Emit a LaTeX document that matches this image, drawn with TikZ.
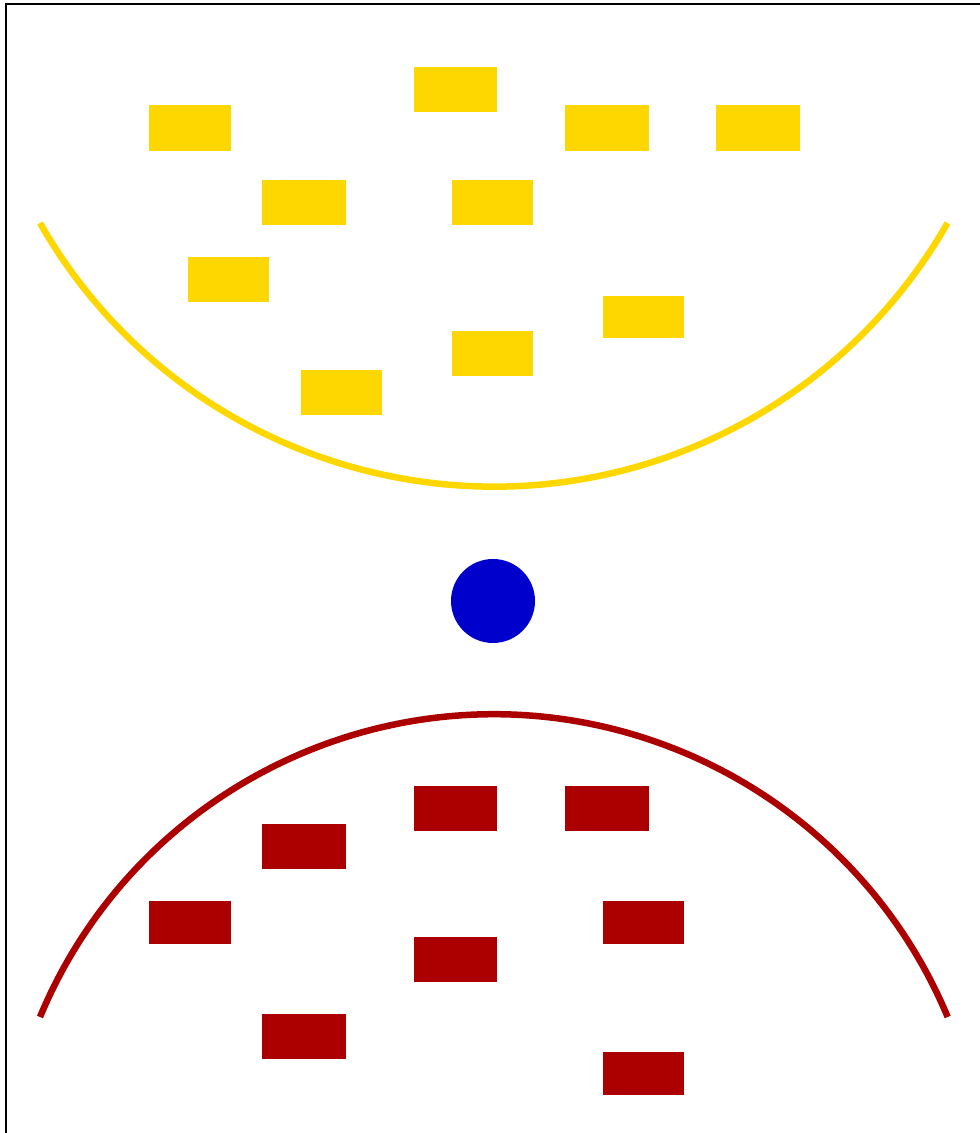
\documentclass[tikz,border=0pt]{standalone}
\usepackage{tikz}
\definecolor{goldc}{RGB}{255,215,0}
\definecolor{redc}{RGB}{172,0,0}
\definecolor{bluec}{RGB}{0,0,204}
\tikzset{
  ybox/.style={fill=goldc},
  rbox/.style={fill=redc},
  yarc/.style={draw=goldc,line width=6.5pt},
  rarc/.style={draw=redc,line width=6.5pt},
  frame/.style={draw=black,line width=1.2pt},
}
\begin{document}
\begin{tikzpicture}[x=1pt,y=1pt]
  \useasboundingbox (0,0) rectangle (980,1133);
  % frame, only left and top edges visible
  \draw[frame] (6,-5) -- (6,1129) -- (990,1129);
  % upper group: yellow blocks above a bowl
  \foreach \xa/\ya/\xb/\yb in {149/982/231/1028, 414/1021/497/1066, 565/982/649/1028,
      716/982/800/1028, 262/908/346/953, 452/908/533/953, 188/831/269/876,
      603/795/684/837, 452/757/533/802, 301/718/382/763}
    \fill[ybox] (\xa,\ya) rectangle (\xb,\yb);
  \coordinate (ys) at (40,910);
  \draw[yarc] (ys) arc[start angle=209.7,end angle=330.3,radius=522.4];
  % the ball in the middle
  \coordinate (ball) at (493,532);
  \fill[bluec] (ball) circle[radius=42];
  % lower group: red blocks under a dome
  \coordinate (rs) at (40,116);
  \draw[rarc] (rs) arc[start angle=157.4,end angle=22.6,radius=491.6];
  \foreach \xa/\ya/\xb/\yb in {414/302/497/347, 565/302/649/347, 262/264/346/309,
      149/189/231/232, 603/189/684/232, 414/151/497/196, 262/74/346/119,
      603/38/684/81}
    \fill[rbox] (\xa,\ya) rectangle (\xb,\yb);
\end{tikzpicture}
\end{document}
